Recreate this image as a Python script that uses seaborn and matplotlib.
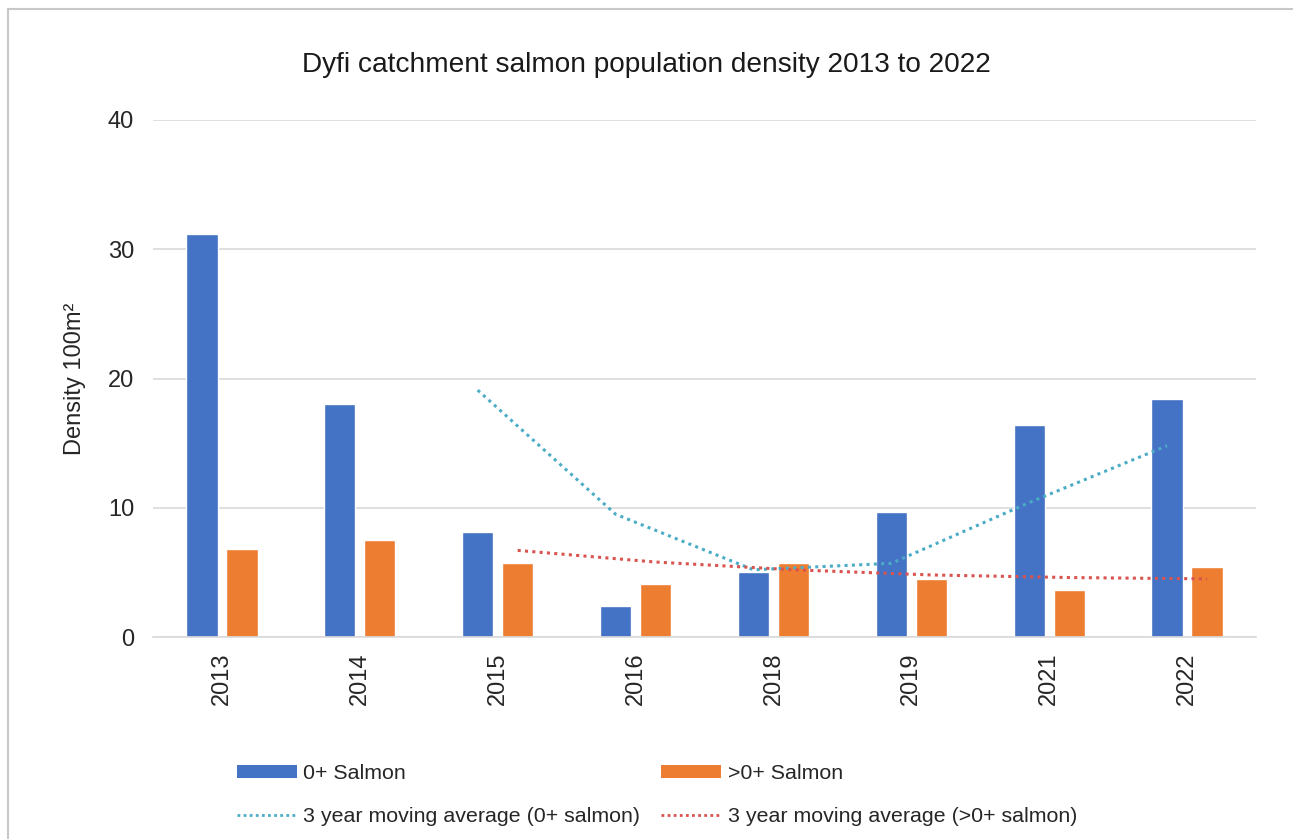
import matplotlib
matplotlib.use("Agg")
import matplotlib.pyplot as plt
import seaborn as sns
import pandas as pd
import numpy as np
from matplotlib.lines import Line2D
from matplotlib.patches import Patch

years = ["2013", "2014", "2015", "2016", "2018", "2019", "2021", "2022"]
salmon_0 = [31.2, 18.0, 8.1, 2.4, 5.0, 9.7, 16.4, 18.4]
salmon_gt0 = [6.8, 7.5, 5.7, 4.1, 5.7, 4.5, 3.6, 5.4]
ma_years = ["2015", "2016", "2018", "2019", "2021", "2022"]
ma_0 = [19.1, 9.5, 5.2, 5.7, 10.4, 14.8]
ma_gt0 = [6.7, 5.8, 5.2, 4.8, 4.6, 4.5]

series_names = ["0+ Salmon", ">0+ Salmon"]
ma_names = ["3 year moving average (0+ salmon)", "3 year moving average (>0+ salmon)"]
c_blue, c_orange = "#4472C4", "#ED7D31"
c_cyan, c_red = "#4BACC6", "#D9534F"

sns.set_theme(style="white")
plt.rcParams["font.family"] = ["Liberation Sans", "DejaVu Sans"]

df = pd.DataFrame({
    "Year": years * 2,
    "Density": salmon_0 + salmon_gt0,
    "Series": [series_names[0]] * len(years) + [series_names[1]] * len(years),
})

fig = plt.figure(figsize=(12.93, 8.39), dpi=100)
ax = fig.add_axes([153 / 1293, 1 - 637 / 839, (1256 - 153) / 1293, (637 - 120) / 839])

W = 0.58
sns.barplot(data=df, x="Year", y="Density", hue="Series", order=years,
            hue_order=series_names, palette=[c_blue, c_orange],
            width=W, gap=0.22, ax=ax, legend=False, saturation=1)

pos = {y: i for i, y in enumerate(years)}
off = W / 4
x_ma = [pos[y] for y in ma_years]
dot = (0, (1, 1.4))
ax.plot([x - off for x in x_ma], ma_0, color=c_cyan, lw=2.2, linestyle=dot, zorder=3)
ax.plot([x + off for x in x_ma], ma_gt0, color=c_red, lw=2.2, linestyle=dot, zorder=3)

ax.set_xlim(-0.5, len(years) - 0.5)
ax.set_ylim(0, 40)
ax.set_yticks([0, 10, 20, 30, 40])
ax.yaxis.grid(True, color="#D9D9D9", lw=1.2)
ax.set_axisbelow(True)
for s in ["top", "right", "left"]:
    ax.spines[s].set_visible(False)
ax.spines["bottom"].set_color("#D9D9D9")
ax.spines["bottom"].set_linewidth(1.2)
ax.tick_params(axis="both", length=0, labelsize=17, colors="#262626")
ax.tick_params(axis="y", pad=13.5)
ax.tick_params(axis="x", pad=11)
plt.setp(ax.get_xticklabels(), rotation=90)
ax.set_xlabel("")
ax.set_ylabel("Density 100m²", fontsize=17, color="#262626", labelpad=15.5)

fig.text(0.5, 1 - 65 / 839, "Dyfi catchment salmon population density 2013 to 2022",
         ha="center", va="center", fontsize=20.2, color="#1a1a1a")

handles = [
    Patch(facecolor=c_blue, edgecolor="none"),
    Line2D([0], [0], color=c_cyan, lw=2, linestyle=(0, (1, 1.2))),
    Patch(facecolor=c_orange, edgecolor="none"),
    Line2D([0], [0], color=c_red, lw=2, linestyle=(0, (1, 1.2))),
]
labels = [series_names[0], ma_names[0], series_names[1], ma_names[1]]
fig.legend(handles, labels, ncol=2, loc="center", bbox_to_anchor=(0.508, 1 - 795 / 839),
           frameon=False, fontsize=15.4, handlelength=2.8, handleheight=0.55,
           labelspacing=1.1, columnspacing=1.0, handletextpad=0.3,
           labelcolor="#262626")

# outer chart border (top and left visible)
fig.add_artist(Line2D([8 / 1293, 1.0], [1 - 9 / 839, 1 - 9 / 839], color="#C8C8C8", lw=1.5,
                      transform=fig.transFigure))
fig.add_artist(Line2D([8 / 1293, 8 / 1293], [0, 1 - 9 / 839], color="#C8C8C8", lw=1.5,
                      transform=fig.transFigure))

fig.savefig("out.png", dpi=100)
